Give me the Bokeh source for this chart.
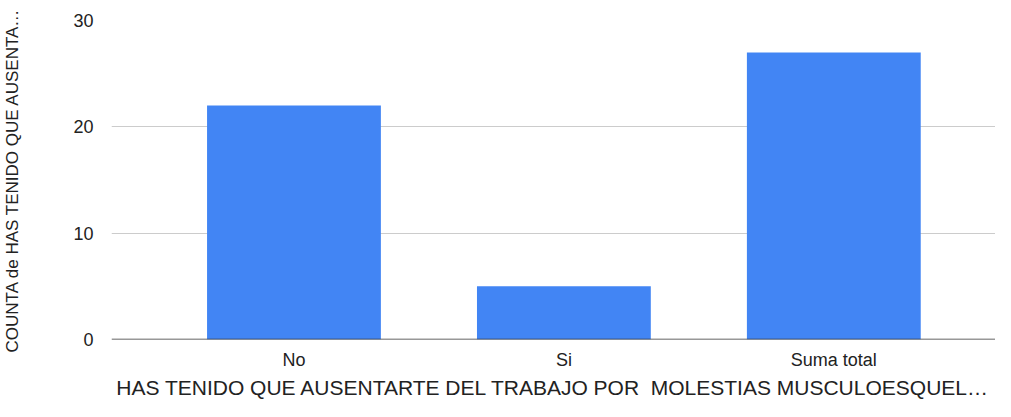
from bokeh.plotting import figure
from bokeh.models import ColumnDataSource, Range1d, Span, FixedTicker
from bokeh.embed import file_html
from bokeh.resources import INLINE

categories = ["No", "Si", "Suma total"]
values = [22, 5, 27]
y_ticks = [0, 10, 20, 30]

FONT = "Liberation Sans"
xs = list(range(len(categories)))
src = ColumnDataSource(dict(x=xs, top=values))

p = figure(width=995, height=401, output_backend="svg", toolbar_location=None,
           x_range=Range1d(-0.676, 2.599), y_range=Range1d(0, 30))
p.min_border_left = 108
p.min_border_right = 0
p.min_border_top = 20
p.min_border_bottom = 0
p.outline_line_color = None

p.vbar(x="x", top="top", width=0.644, source=src, color="#4285F4", line_color=None)

p.xaxis.ticker = FixedTicker(ticks=xs)
p.xaxis.major_label_overrides = {i: c for i, c in enumerate(categories)}
p.yaxis.ticker = FixedTicker(ticks=y_ticks)

for ax in (p.xaxis[0], p.yaxis[0]):
    ax.axis_line_color = None
    ax.major_tick_line_color = None
    ax.minor_tick_line_color = None
    ax.major_label_text_font = FONT
    ax.major_label_text_font_size = "18px"
    ax.major_label_text_color = "#222222"
    ax.axis_label_text_font = FONT
    ax.axis_label_text_font_style = "normal"
    ax.axis_label_text_color = "#222222"

p.xaxis.axis_label_text_font_size = "21px"
p.yaxis.axis_label_text_font_size = "17px"

p.xaxis.axis_label = "HAS TENIDO QUE AUSENTARTE DEL TRABAJO POR\u00a0 MOLESTIAS MUSCULOESQUEL…"
p.yaxis.axis_label = "COUNTA de HAS TENIDO QUE AUSENTA…"
p.xaxis.major_label_standoff = 4
p.xaxis.axis_label_standoff = 3
p.yaxis.major_label_standoff = 12
p.yaxis.axis_label_standoff = 48

p.xgrid.grid_line_color = None
p.ygrid.grid_line_color = "#cccccc"
p.ygrid.grid_line_width = 1

p.add_layout(Span(location=0, dimension="width", line_color="#333333", line_width=1.5))

open("out.html", "w").write(file_html(p, INLINE))
